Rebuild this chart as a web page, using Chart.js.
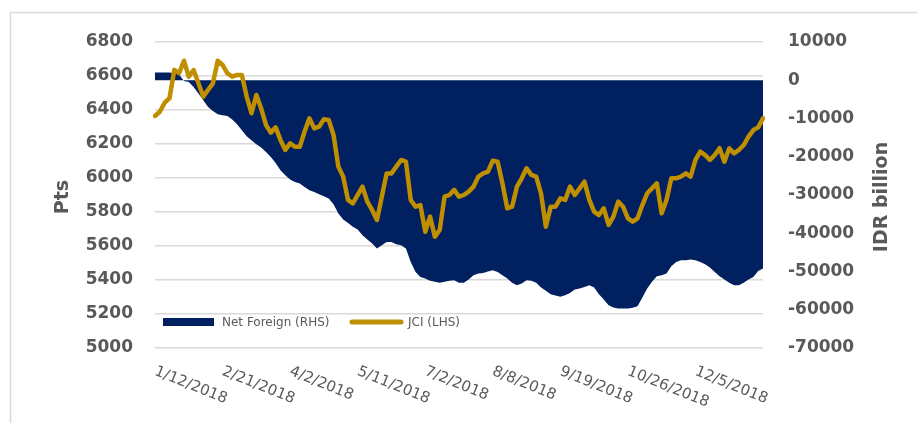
<!DOCTYPE html>
<html>
<head>
<meta charset="utf-8">
<script src="https://cdn.jsdelivr.net/npm/chart.js@4.4.1/dist/chart.umd.min.js"></script>
<style>
  html, body { margin: 0; padding: 0; background: #fff; }
  #wrap { width: 917px; height: 423px; position: relative; }
</style>
</head>
<body>
<div id="wrap"><canvas id="jciChart"></canvas></div>
<script>
// dates shown on the x axis, one every 14 points
const tickDates = ['1/12/2018', '2/21/2018', '4/2/2018', '5/11/2018', '7/2/2018',
                   '8/8/2018', '9/19/2018', '10/26/2018', '12/5/2018'];

// JCI index (Pts, left axis)
const jci = [
  6365, 6390, 6443, 6469, 6636, 6616, 6690, 6596, 6635, 6557,
  6479, 6518, 6557, 6690, 6665, 6616, 6596, 6606, 6606, 6479,
  6381, 6488, 6410, 6312, 6267, 6298, 6224, 6165, 6204, 6184,
  6184, 6273, 6351, 6292, 6302, 6345, 6341, 6253, 6067, 6008,
  5871, 5851, 5900, 5949, 5861, 5812, 5753, 5890, 6027, 6027,
  6067, 6106, 6096, 5871, 5831, 5841, 5684, 5773, 5655, 5694,
  5890, 5900, 5930, 5890, 5900, 5920, 5949, 6008, 6027, 6037,
  6102, 6096, 5969, 5822, 5831, 5949, 5998, 6057, 6018, 6008,
  5910, 5714, 5831, 5831, 5880, 5871, 5949, 5900, 5939, 5979,
  5871, 5802, 5782, 5822, 5724, 5773, 5861, 5831, 5763, 5743,
  5763, 5841, 5910, 5939, 5969, 5792, 5871, 5998, 5998, 6008,
  6027, 6008, 6106, 6155, 6135, 6106, 6135, 6175, 6096, 6175,
  6145, 6165, 6194, 6243, 6282, 6298, 6351
];

// cumulative net foreign flow (IDR billion, right axis)
const netForeign = [
  2000, 2000, 2000, 2000, 1800, 1500, -200, -430, -1740, -3480,
  -5230, -6970, -8010, -8890, -9150, -9320, -10280, -11500, -13070, -14640,
  -15680, -16730, -17600, -18730, -20040, -21610, -23520, -24830, -25960, -26570,
  -27010, -27880, -28750, -29190, -29800, -30320, -30930, -32410, -34850, -36420,
  -37290, -38330, -39030, -40510, -41650, -42690, -44000, -43130, -42260, -42260,
  -42870, -43130, -44000, -47490, -50100, -51410, -51840, -52450, -52710, -52970,
  -52710, -52450, -52280, -52970, -52970, -52100, -50970, -50530, -50360, -50010,
  -49660, -50100, -50970, -51840, -52970, -53580, -53150, -52280, -52450, -52970,
  -54190, -55060, -55940, -56280, -56630, -56200, -55590, -54720, -54460, -54020,
  -53580, -54190, -55940, -57330, -58810, -59420, -59680, -59680, -59680, -59500,
  -59070, -56810, -54460, -52710, -51230, -50970, -50530, -48620, -47490, -47050,
  -47050, -46880, -47050, -47490, -48100, -48970, -50100, -51230, -52100, -52970,
  -53580, -53580, -52970, -52100, -51410, -49840, -49230
];

const labels = jci.map((_, i) => (i % 14 === 0 ? (tickDates[i / 14] || '') : ''));

const grey = '#595959';
const navy = '#002060';
const gold = '#BF8F00';

const decor = {
  id: 'decor',
  beforeDraw(chart) {
    const ctx = chart.ctx;
    ctx.save();
    ctx.strokeStyle = '#d9d9d9';
    ctx.lineWidth = 1.5;
    ctx.beginPath();
    ctx.moveTo(10.5, chart.height);
    ctx.lineTo(10.5, 12.5);
    ctx.lineTo(chart.width, 12.5);
    ctx.stroke();
    ctx.restore();
  },
  afterDraw(chart) {
    const { ctx, chartArea, scales } = chart;
    const midY = (chartArea.top + chartArea.bottom) / 2 + 2;
    ctx.save();
    ctx.fillStyle = grey;

    // axis titles, both read bottom to top
    ctx.font = 'bold 19px "DejaVu Sans"';
    ctx.textAlign = 'center';
    ctx.textBaseline = 'middle';
    [['Pts', 63], ['IDR billion', 882]].forEach(([t, x]) => {
      ctx.save();
      ctx.translate(x, midY);
      ctx.rotate(-Math.PI / 2);
      ctx.fillText(t, 0, 0);
      ctx.restore();
    });

    // date labels slope down to the right
    ctx.font = '15px "DejaVu Sans"';
    ctx.textAlign = 'left';
    ctx.textBaseline = 'top';
    chart.data.labels.forEach((lab, i) => {
      if (!lab) return;
      const x = scales.x.getPixelForValue(i);
      ctx.save();
      ctx.translate(x + 3, chartArea.bottom + 16);
      ctx.rotate(22 * Math.PI / 180);
      ctx.fillText(lab, 0, 0);
      ctx.restore();
    });

    // legend sits inside the plot, bottom left
    const ly = 322;
    const ds = chart.data.datasets;
    ctx.font = '12px "DejaVu Sans"';
    ctx.textBaseline = 'middle';
    ctx.fillStyle = navy;
    ctx.fillRect(163, ly - 4, 51, 8);
    ctx.fillStyle = grey;
    ctx.fillText(ds[1].label, 222, ly + 1);
    ctx.strokeStyle = gold;
    ctx.lineWidth = 5;
    ctx.lineCap = 'round';
    ctx.beginPath();
    ctx.moveTo(352, ly);
    ctx.lineTo(401, ly);
    ctx.stroke();
    ctx.fillText(ds[0].label, 408, ly + 1);
    ctx.restore();
  }
};

const axisFont = { family: 'DejaVu Sans', size: 17, weight: 'bold' };

new Chart(document.getElementById('jciChart'), {
  type: 'line',
  data: {
    labels: labels,
    datasets: [
      {
        label: 'JCI (LHS)',
        data: jci,
        yAxisID: 'y',
        borderColor: gold,
        borderWidth: 4.5,
        borderJoinStyle: 'round',
        borderCapStyle: 'round',
        pointRadius: 0,
        fill: false,
        order: 1
      },
      {
        label: 'Net Foreign (RHS)',
        data: netForeign,
        yAxisID: 'y1',
        backgroundColor: navy,
        borderWidth: 0,
        pointRadius: 0,
        fill: 'origin',
        order: 2
      }
    ]
  },
  options: {
    responsive: true,
    maintainAspectRatio: false,
    animation: false,
    layout: { padding: { top: 42, bottom: 75 } },
    plugins: {
      legend: { display: false },
      tooltip: { enabled: false }
    },
    scales: {
      x: { display: false },
      y: {
        position: 'left',
        min: 5000,
        max: 6800,
        ticks: { stepSize: 200, color: grey, font: axisFont, padding: 22, callback: v => v },
        grid: { color: '#d9d9d9', lineWidth: 1.5, drawTicks: false },
        border: { display: false },
        afterFit(s) { s.width = 155; }
      },
      y1: {
        position: 'right',
        min: -70000,
        max: 10000,
        ticks: { stepSize: 10000, color: grey, font: axisFont, padding: 25, callback: v => v },
        grid: { display: false, drawTicks: false },
        border: { display: false },
        afterFit(s) { s.width = 154; }
      }
    }
  },
  plugins: [decor]
});
</script>
</body>
</html>
